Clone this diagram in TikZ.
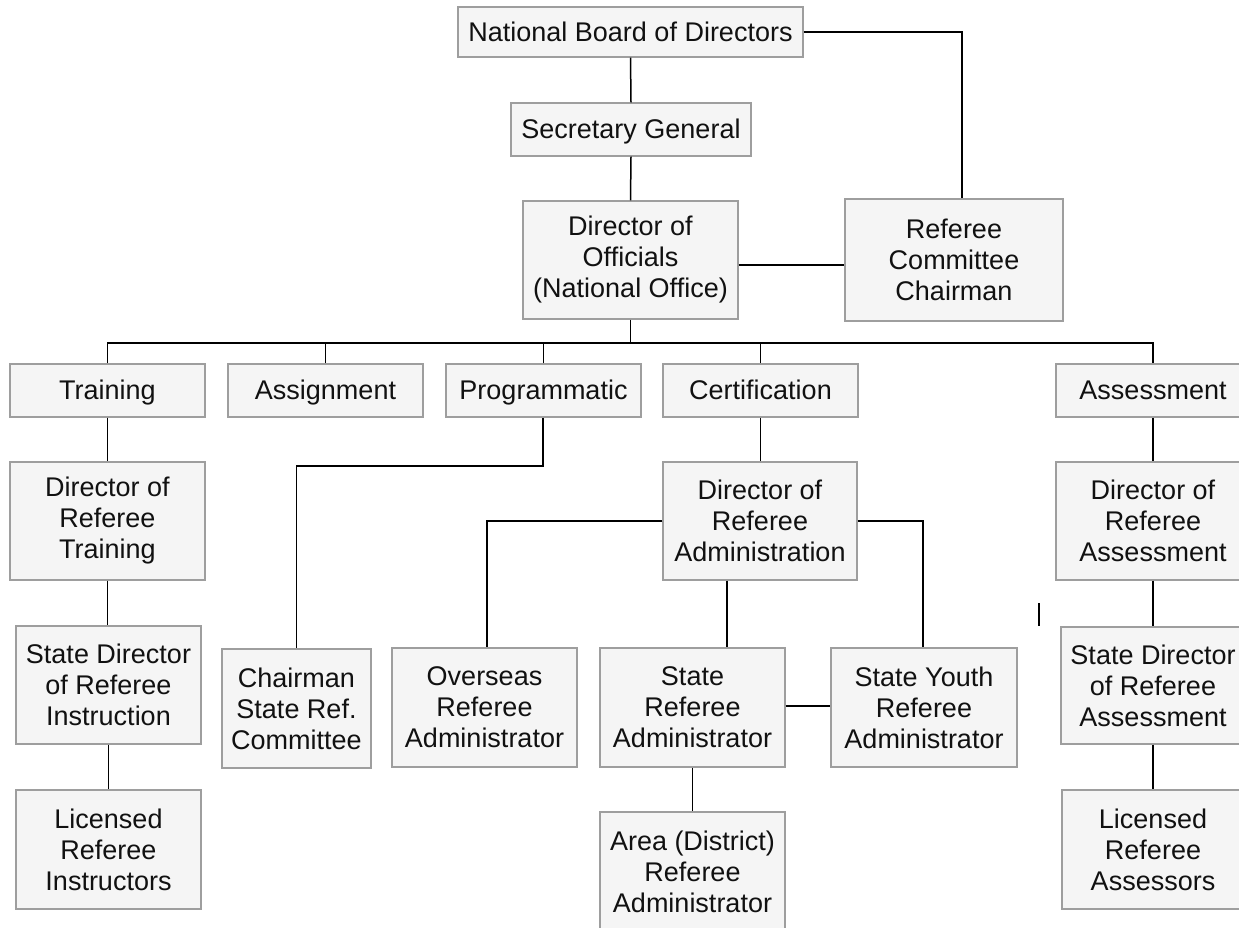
\documentclass[tikz,border=0pt]{standalone}
\usepackage{fontspec}
\setmainfont{Liberation Sans}
\definecolor{boxfill}{HTML}{F5F5F5}
\definecolor{boxline}{HTML}{9E9E9E}
\definecolor{ink}{HTML}{111111}
\begin{document}
\begin{tikzpicture}[x=1pt,y=-1pt,
  box/.style={draw=boxline, fill=boxfill, line width=1.1pt, rectangle, inner sep=0pt,
    align=center, text=ink, font=\fontsize{27}{31}\selectfont},
  oneline/.style={box, text height=21pt, text depth=3pt},
  link/.style={draw=black, line width=1.5pt}]
\useasboundingbox (0,0) rectangle (1239,927);
\clip (0,0) rectangle (1239,927);
% top
\node[oneline, minimum width=345, minimum height=50] (NB) at (630.5,32) {National Board of Directors};
\node[oneline, minimum width=240, minimum height=53] (SG) at (631,129.5) {Secretary General};
\node[box, minimum width=215, minimum height=118] (DO) at (630.5,260) {Director of\\Officials\\(National Office)};
\node[box, minimum width=218, minimum height=122] (RC) at (954,260) {Referee\\Committee\\Chairman};
% row
\node[oneline, minimum width=195, minimum height=53] (Tr) at (107.5,390.5) {Training};
\node[oneline, minimum width=195, minimum height=53] (Asg) at (325.5,390.5) {Assignment};
\node[oneline, minimum width=195, minimum height=53] (Prog) at (543.5,390.5) {Programmatic};
\node[oneline, minimum width=195, minimum height=53] (Cert) at (760.5,390.5) {Certification};
\node[oneline, minimum width=194, minimum height=53] (As) at (1153,390.5) {Assessment};
% training column
\node[box, minimum width=195, minimum height=118] (DRT) at (107.5,521) {Director of\\Referee\\Training};
\node[box, minimum width=185, minimum height=118] (SDRI) at (108.5,685) {State Director\\of Referee\\Instruction};
\node[box, minimum width=185, minimum height=119] (LRI) at (108.5,849.5) {Licensed\\Referee\\Instructors};
% programmatic
\node[box, minimum width=149, minimum height=119] (Ch) at (296.5,708.5) {Chairman\\State Ref.\\Committee};
% certification
\node[box, minimum width=194, minimum height=118] (DRA) at (760,521) {Director of\\Referee\\Administration};
\node[box, minimum width=185, minimum height=119] (Ov) at (484.5,707.5) {Overseas\\Referee\\Administrator};
\node[box, minimum width=185, minimum height=119] (SRA) at (692.5,707.5) {State\\Referee\\Administrator};
\node[box, minimum width=186, minimum height=119] (SYRA) at (924,707.5) {State Youth\\Referee\\Administrator};
\node[box, minimum width=185, minimum height=119] (Area) at (692.5,871.5) {Area (District)\\Referee\\Administrator};
% assessment column
\node[box, minimum width=194, minimum height=118] (DRAs) at (1153,521) {Director of\\Referee\\Assessment};
\node[box, minimum width=184, minimum height=117] (SDRAs) at (1153,685.5) {State Director\\of Referee\\Assessment};
\node[box, minimum width=182, minimum height=119] (LRAs) at (1153,849.5) {Licensed\\Referee\\Assessors};
% helper coordinates
\coordinate (bus) at (630.5,343);
\coordinate (pj) at (543,466);
\coordinate (k) at (727,0);
% connectors
\draw[link] (NB.south) -- (SG.north);
\draw[link] (SG.south) -- (DO.north);
\draw[link] (NB.east) -| ([xshift=8pt]RC.north);
\draw[link] ([yshift=-5pt]DO.east) -- ([yshift=-5pt]RC.west);
\draw[link] (DO.south) -- (bus);
\draw[link] (Tr.north) |- (bus) -| (As.north);
\draw[link] (Asg.north) -- (Asg.north |- bus);
\draw[link] (Prog.north) -- (Prog.north |- bus);
\draw[link] (Cert.north) -- (Cert.north |- bus);
\draw[link] (Tr.south) -- (DRT.north);
\draw[link] (DRT.south) -- (DRT.south |- SDRI.north);
\draw[link] (SDRI.south) -- (LRI.north);
\draw[link] (Prog.south -| pj) -- (pj) -| (Ch.north);
\draw[link] (Cert.south) -- (DRA.north -| Cert.south);
\draw[link] (DRA.west) -| ([xshift=2.5pt]Ov.north);
\draw[link] (DRA.east) -| ([xshift=-1pt]SYRA.north);
\draw[link] (DRA.south -| k) -- (SRA.north -| k);
\draw[link] ([yshift=1.5pt]SRA.east) -- ([yshift=1.5pt]SYRA.west);
\draw[link] (SRA.south) -- (Area.north);
\draw[link] (As.south) -- (DRAs.north);
\draw[link] (DRAs.south) -- (SDRAs.north);
\draw[link] (SDRAs.south) -- (LRAs.north);
% stray mark
\draw[line width=1.3pt] (1039,603) -- (1039,626);
\end{tikzpicture}
\end{document}
